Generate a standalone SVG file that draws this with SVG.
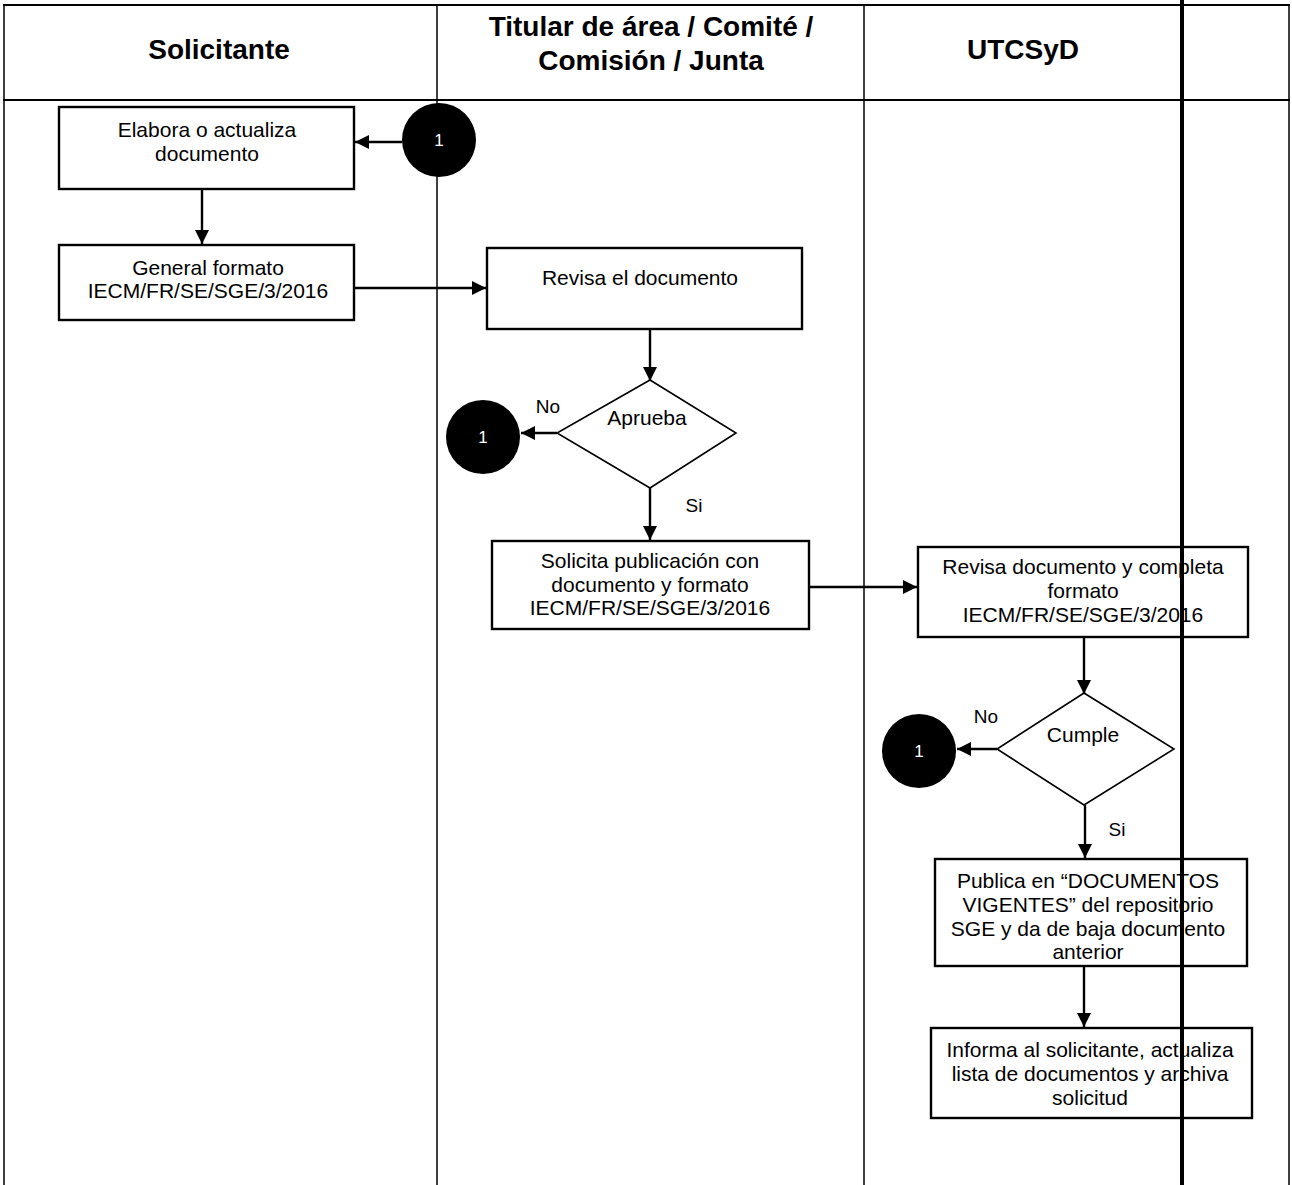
<svg xmlns="http://www.w3.org/2000/svg" width="1292" height="1185" viewBox="0 0 1292 1185">
<defs>
<style>
.frame{stroke:#000;stroke-width:2;fill:none}
.lane{stroke:#000;stroke-width:1.5;fill:none}
.thick{stroke:#000;stroke-width:4;fill:none}
.box{fill:#fff;stroke:#000;stroke-width:2.4}
.dia{fill:#fff;stroke:#000;stroke-width:1.6}
.con{stroke:#000;stroke-width:2.4;fill:none;marker-end:url(#ah)}
.hdr{font-family:"Liberation Sans",Arial,sans-serif;font-weight:bold;font-size:28px;text-anchor:middle;fill:#000}
.t{font-family:"Liberation Sans",Arial,sans-serif;font-size:21px;text-anchor:middle;fill:#000}
.lbl{font-family:"Liberation Sans",Arial,sans-serif;font-size:19px;text-anchor:middle;fill:#000}
.cn{fill:#000}
.cnt{font-family:"Liberation Sans",Arial,sans-serif;font-size:17px;text-anchor:middle;fill:#fff}
</style>
<marker id="ah" viewBox="0 0 10 10" refX="10" refY="5" markerWidth="15" markerHeight="14" markerUnits="userSpaceOnUse" orient="auto">
<path d="M0,0 L10,5 L0,10 z" fill="#000"/>
</marker>
</defs>
<rect width="1292" height="1185" fill="#fff"/>
<g id="lanes">
<line class="frame" x1="3" y1="5" x2="1290" y2="5"/>
<line class="frame" x1="3" y1="100" x2="1290" y2="100"/>
<line class="lane" x1="4" y1="5" x2="4" y2="1185"/>
<line class="lane" x1="437" y1="5" x2="437" y2="1185"/>
<line class="lane" x1="864" y1="5" x2="864" y2="1185"/>
<line class="lane" x1="1289" y1="5" x2="1289" y2="1185"/>
<text class="hdr" x="219" y="59">Solicitante</text>
<text class="hdr" x="651" y="36">Titular de área / Comité /</text>
<text class="hdr" x="651" y="70">Comisión / Junta</text>
<text class="hdr" x="1023" y="59">UTCSyD</text>
</g>
<g id="connectors">
<line class="con" x1="402" y1="142" x2="355" y2="142"/>
<line class="con" x1="202" y1="189" x2="202" y2="244"/>
<line class="con" x1="354" y1="288" x2="486" y2="288"/>
<line class="con" x1="650" y1="329" x2="650" y2="381"/>
<line class="con" x1="557" y1="433" x2="521" y2="433"/>
<line class="con" x1="650" y1="488" x2="650" y2="540"/>
<line class="con" x1="809" y1="587" x2="917" y2="587"/>
<line class="con" x1="1084" y1="637" x2="1084" y2="694"/>
<line class="con" x1="997" y1="749" x2="957" y2="749"/>
<line class="con" x1="1085" y1="805" x2="1085" y2="858"/>
<line class="con" x1="1084" y1="966" x2="1084" y2="1027"/>
</g>
<g id="c1a"><circle class="cn" cx="439" cy="140" r="37"/><text class="cnt" x="439" y="146">1</text></g>
<g id="nA"><rect class="box" x="59" y="107" width="295" height="82"/>
<text class="t" x="207" y="137">Elabora o actualiza</text><text class="t" x="207" y="161">documento</text></g>
<g id="nB"><rect class="box" x="59" y="245" width="295" height="75"/>
<text class="t" x="208" y="275">General formato</text><text class="t" x="208" y="298">IECM/FR/SE/SGE/3/2016</text></g>
<g id="nC"><rect class="box" x="487" y="248" width="315" height="81"/>
<text class="t" x="640" y="285">Revisa el documento</text></g>
<g id="d1"><polygon class="dia" points="650,380 736,433 650,488 557,433"/>
<text class="t" x="647" y="425">Aprueba</text>
<text class="lbl" x="548" y="413">No</text><text class="lbl" x="694" y="512">Si</text></g>
<g id="c1b"><circle class="cn" cx="483" cy="437" r="37"/><text class="cnt" x="483" y="443">1</text></g>
<g id="nE"><rect class="box" x="492" y="541" width="317" height="88"/>
<text class="t" x="650" y="568">Solicita publicación con</text><text class="t" x="650" y="592">documento y formato</text><text class="t" x="650" y="615">IECM/FR/SE/SGE/3/2016</text></g>
<g id="nF"><rect class="box" x="918" y="547" width="330" height="90"/>
<text class="t" x="1083" y="574">Revisa documento y completa</text><text class="t" x="1083" y="598">formato</text><text class="t" x="1083" y="622">IECM/FR/SE/SGE/3/2016</text></g>
<g id="d2"><polygon class="dia" points="1084,693 1174,749 1084,805 997,749"/>
<text class="t" x="1083" y="742">Cumple</text>
<text class="lbl" x="986" y="723">No</text><text class="lbl" x="1117" y="836">Si</text></g>
<g id="c1c"><circle class="cn" cx="919" cy="751" r="37"/><text class="cnt" x="919" y="757">1</text></g>
<g id="nG"><rect class="box" x="935" y="859" width="312" height="107"/>
<text class="t" x="1088" y="888">Publica en “DOCUMENTOS</text><text class="t" x="1088" y="912">VIGENTES” del repositorio</text><text class="t" x="1088" y="936">SGE y da de baja documento</text><text class="t" x="1088" y="959">anterior</text></g>
<g id="nH"><rect class="box" x="931" y="1028" width="321" height="90"/>
<text class="t" x="1090" y="1057">Informa al solicitante, actualiza</text><text class="t" x="1090" y="1081">lista de documentos y archiva</text><text class="t" x="1090" y="1105">solicitud</text></g>
<g id="overlay"><line class="thick" x1="1182" y1="0" x2="1182" y2="1185"/></g>
</svg>
